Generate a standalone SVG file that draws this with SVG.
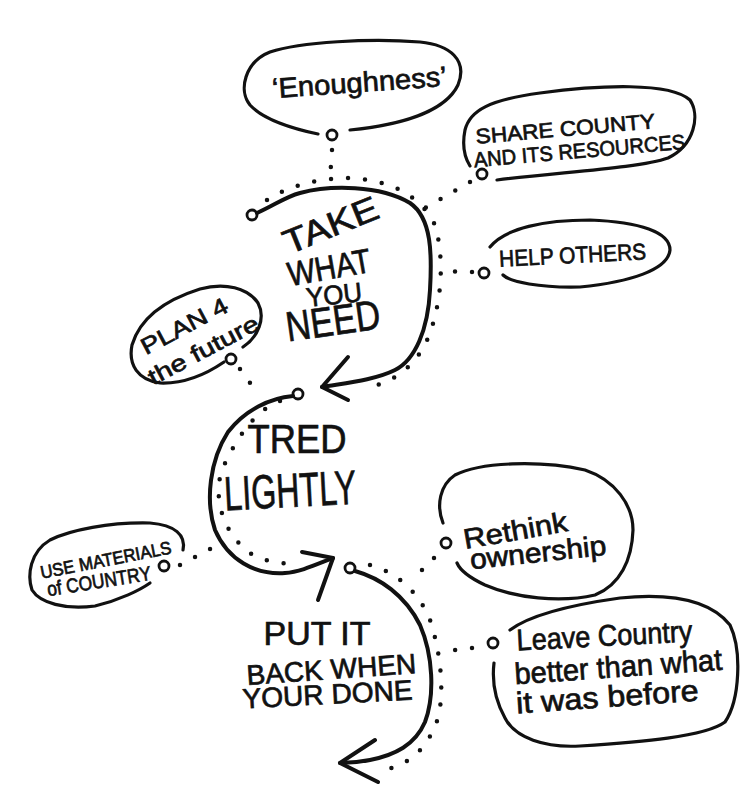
<svg xmlns="http://www.w3.org/2000/svg" width="751" height="800" viewBox="0 0 751 800">
<style>
.ln{fill:none;stroke:#111;stroke-width:3.2;stroke-linecap:round;stroke-linejoin:round}
.thk{fill:none;stroke:#111;stroke-width:4;stroke-linecap:round;stroke-linejoin:round}
.dot{fill:none;stroke:#111;stroke-width:4.5;stroke-linecap:round;stroke-dasharray:0 17}
.c{fill:#fff;stroke:#111;stroke-width:2.8}
.t{font-family:"Liberation Sans","DejaVu Sans",sans-serif;fill:#111;stroke:#111;stroke-width:0.7;text-anchor:middle}
</style>
<rect width="751" height="800" fill="#fff"/>
<g id="connectors">
<path class="dot" d="M332,150 L330,179"/>
<path class="dot" d="M470,182 L425,208"/>
<path class="dot" d="M472,272 L440,271"/>
<path class="dot" d="M240,369 L258,394"/>
<path class="dot" d="M180,565 L214,547"/>
<path class="dot" d="M434,558 L418,574"/>
<path class="dot" d="M472,648 L440,652"/>
<path class="dot" d="M267,200 C290,185 320,178 350,178 C390,180 420,195 435,225 C445,260 441,300 431,330 C421,360 400,380 370,387"/>
<path class="dot" d="M280,401 C255,410 235,440 222,470 C212,500 225,535 250,553 C265,562 285,565 300,563"/>
<path class="dot" d="M370,565 C395,572 418,590 430,620 C440,650 445,690 438,718 C428,748 410,765 383,770"/>
</g>
<g id="take-what-you-need">
<circle class="c" cx="252" cy="215" r="5"/>
<path class="thk" d="M257,213 C275,205 285,197 300,193 C330,185 380,185 410,203 C432,218 432,255 430,290 C428,330 415,360 395,370 C375,380 345,383 322,387"/>
<path class="thk" d="M348,357 L322,387 L348,400"/>
<text class="t" font-size="34" transform="translate(335,236) rotate(-22)" textLength="100" lengthAdjust="spacingAndGlyphs">TAKE</text>
<text class="t" font-size="34" transform="translate(331,279) rotate(-10)" textLength="84" lengthAdjust="spacingAndGlyphs">WHAT</text>
<text class="t" font-size="27" transform="translate(335,304) rotate(-6)" textLength="56" lengthAdjust="spacingAndGlyphs">YOU</text>
<text class="t" font-size="42" transform="translate(335,335) rotate(-8)" textLength="95" lengthAdjust="spacingAndGlyphs">NEED</text>
</g>
<g id="tred-lightly">
<circle class="c" cx="298" cy="394" r="5"/>
<path class="thk" d="M293,396 C270,398 245,410 228,432 C210,460 205,500 215,530 C228,560 255,575 285,573 C300,572 315,565 333,558"/>
<path class="thk" d="M302,552 L333,558 L318,600"/>
<text class="t" font-size="40" x="297" y="453" textLength="99" lengthAdjust="spacingAndGlyphs">TRED</text>
<text class="t" font-size="48" transform="translate(291,507) rotate(-3)" textLength="132" lengthAdjust="spacingAndGlyphs">LIGHTLY</text>
</g>
<g id="put-it-back">
<circle class="c" cx="350" cy="568" r="5"/>
<path class="thk" d="M355,571 C380,578 405,595 420,625 C433,655 435,695 425,722 C415,745 395,755 370,760 C360,762 350,763 340,763"/>
<path class="thk" d="M375,740 L340,763 L378,782"/>
<text class="t" font-size="33" x="317" y="645" textLength="107" lengthAdjust="spacingAndGlyphs">PUT IT</text>
<text class="t" font-size="28" transform="translate(332,679) rotate(-4)" textLength="170" lengthAdjust="spacingAndGlyphs">BACK WHEN</text>
<text class="t" font-size="28" transform="translate(328,704) rotate(-3)" textLength="170" lengthAdjust="spacingAndGlyphs">YOUR DONE</text>
</g>
<g id="enoughness">
<path class="ln" d="M350,130 C400,125 445,112 458,85 C468,60 450,45 420,42 C370,38 300,42 270,52 C245,62 238,90 250,105 C262,118 290,128 318,134"/>
<circle class="c" cx="332" cy="135" r="5"/>
<text class="t" font-size="28" transform="translate(360,92) rotate(-4)" textLength="175" lengthAdjust="spacingAndGlyphs">‘Enoughness’</text>
</g>
<g id="share-county">
<path class="ln" d="M497,180 C560,172 640,168 668,158 C695,145 700,115 690,100 C670,82 600,85 540,93 C490,100 470,110 465,130 C462,145 465,158 470,166"/>
<circle class="c" cx="482" cy="174" r="5"/>
<text class="t" font-size="21" transform="translate(566,136) rotate(-5)" textLength="180" lengthAdjust="spacingAndGlyphs">SHARE COUNTY</text>
<text class="t" font-size="21" transform="translate(580,158) rotate(-5)" textLength="212" lengthAdjust="spacingAndGlyphs">AND ITS RESOURCES</text>
</g>
<g id="help-others">
<path class="ln" d="M490,247 C505,228 545,220 590,220 C640,222 670,232 670,250 C668,270 630,282 580,287 C540,288 510,282 503,275"/>
<circle class="c" cx="484" cy="273" r="5"/>
<text class="t" font-size="23" transform="translate(573,263) rotate(-3)" textLength="147" lengthAdjust="spacingAndGlyphs">HELP OTHERS</text>
</g>
<g id="plan-future">
<path class="ln" d="M243,347 C258,337 266,318 258,303 C248,288 225,282 200,289 C165,300 140,318 132,345 C128,365 138,380 160,383 C185,384 205,375 224,362"/>
<circle class="c" cx="231" cy="359" r="5"/>
<text class="t" font-size="23" transform="translate(188,333) rotate(-28)" textLength="95" lengthAdjust="spacingAndGlyphs">PLAN 4</text>
<text class="t" font-size="23" transform="translate(207,357) rotate(-28)" textLength="122" lengthAdjust="spacingAndGlyphs">the future</text>
</g>
<g id="use-materials">
<path class="ln" d="M183,550 C186,535 175,525 150,523 C110,522 70,530 50,540 C30,552 27,575 32,590 C40,603 65,610 95,606 C120,600 140,590 150,583"/>
<circle class="c" cx="164" cy="566" r="5"/>
<text class="t" font-size="18" transform="translate(107,566) rotate(-11)" textLength="133" lengthAdjust="spacingAndGlyphs">USE MATERIALS</text>
<text class="t" font-size="20" transform="translate(100,588) rotate(-9)" textLength="105" lengthAdjust="spacingAndGlyphs">of COUNTRY</text>
</g>
<g id="rethink-ownership">
<path class="ln" d="M443,523 C436,505 440,485 455,475 C480,462 540,460 585,470 C615,480 633,505 633,530 C632,560 620,585 595,595 C560,603 515,598 485,585 C468,577 460,570 457,563"/>
<circle class="c" cx="446" cy="543" r="5"/>
<text class="t" font-size="28" transform="translate(517,540) rotate(-10)" textLength="105" lengthAdjust="spacingAndGlyphs">Rethink</text>
<text class="t" font-size="28" transform="translate(539,562) rotate(-6)" textLength="137" lengthAdjust="spacingAndGlyphs">ownership</text>
</g>
<g id="leave-country">
<path class="ln" d="M510,630 C530,615 570,605 620,598 C670,593 710,600 730,625 C742,650 740,700 725,722 C705,737 640,742 580,746 C545,748 515,738 505,718 C495,700 492,680 494,663"/>
<circle class="c" cx="493" cy="643" r="5"/>
<text class="t" font-size="30" transform="translate(605,646) rotate(-3)" textLength="176" lengthAdjust="spacingAndGlyphs">Leave Country</text>
<text class="t" font-size="30" transform="translate(619,677) rotate(-4)" textLength="208" lengthAdjust="spacingAndGlyphs">better than what</text>
<text class="t" font-size="30" transform="translate(608,707) rotate(-4)" textLength="183" lengthAdjust="spacingAndGlyphs">it was before</text>
</g>
</svg>
